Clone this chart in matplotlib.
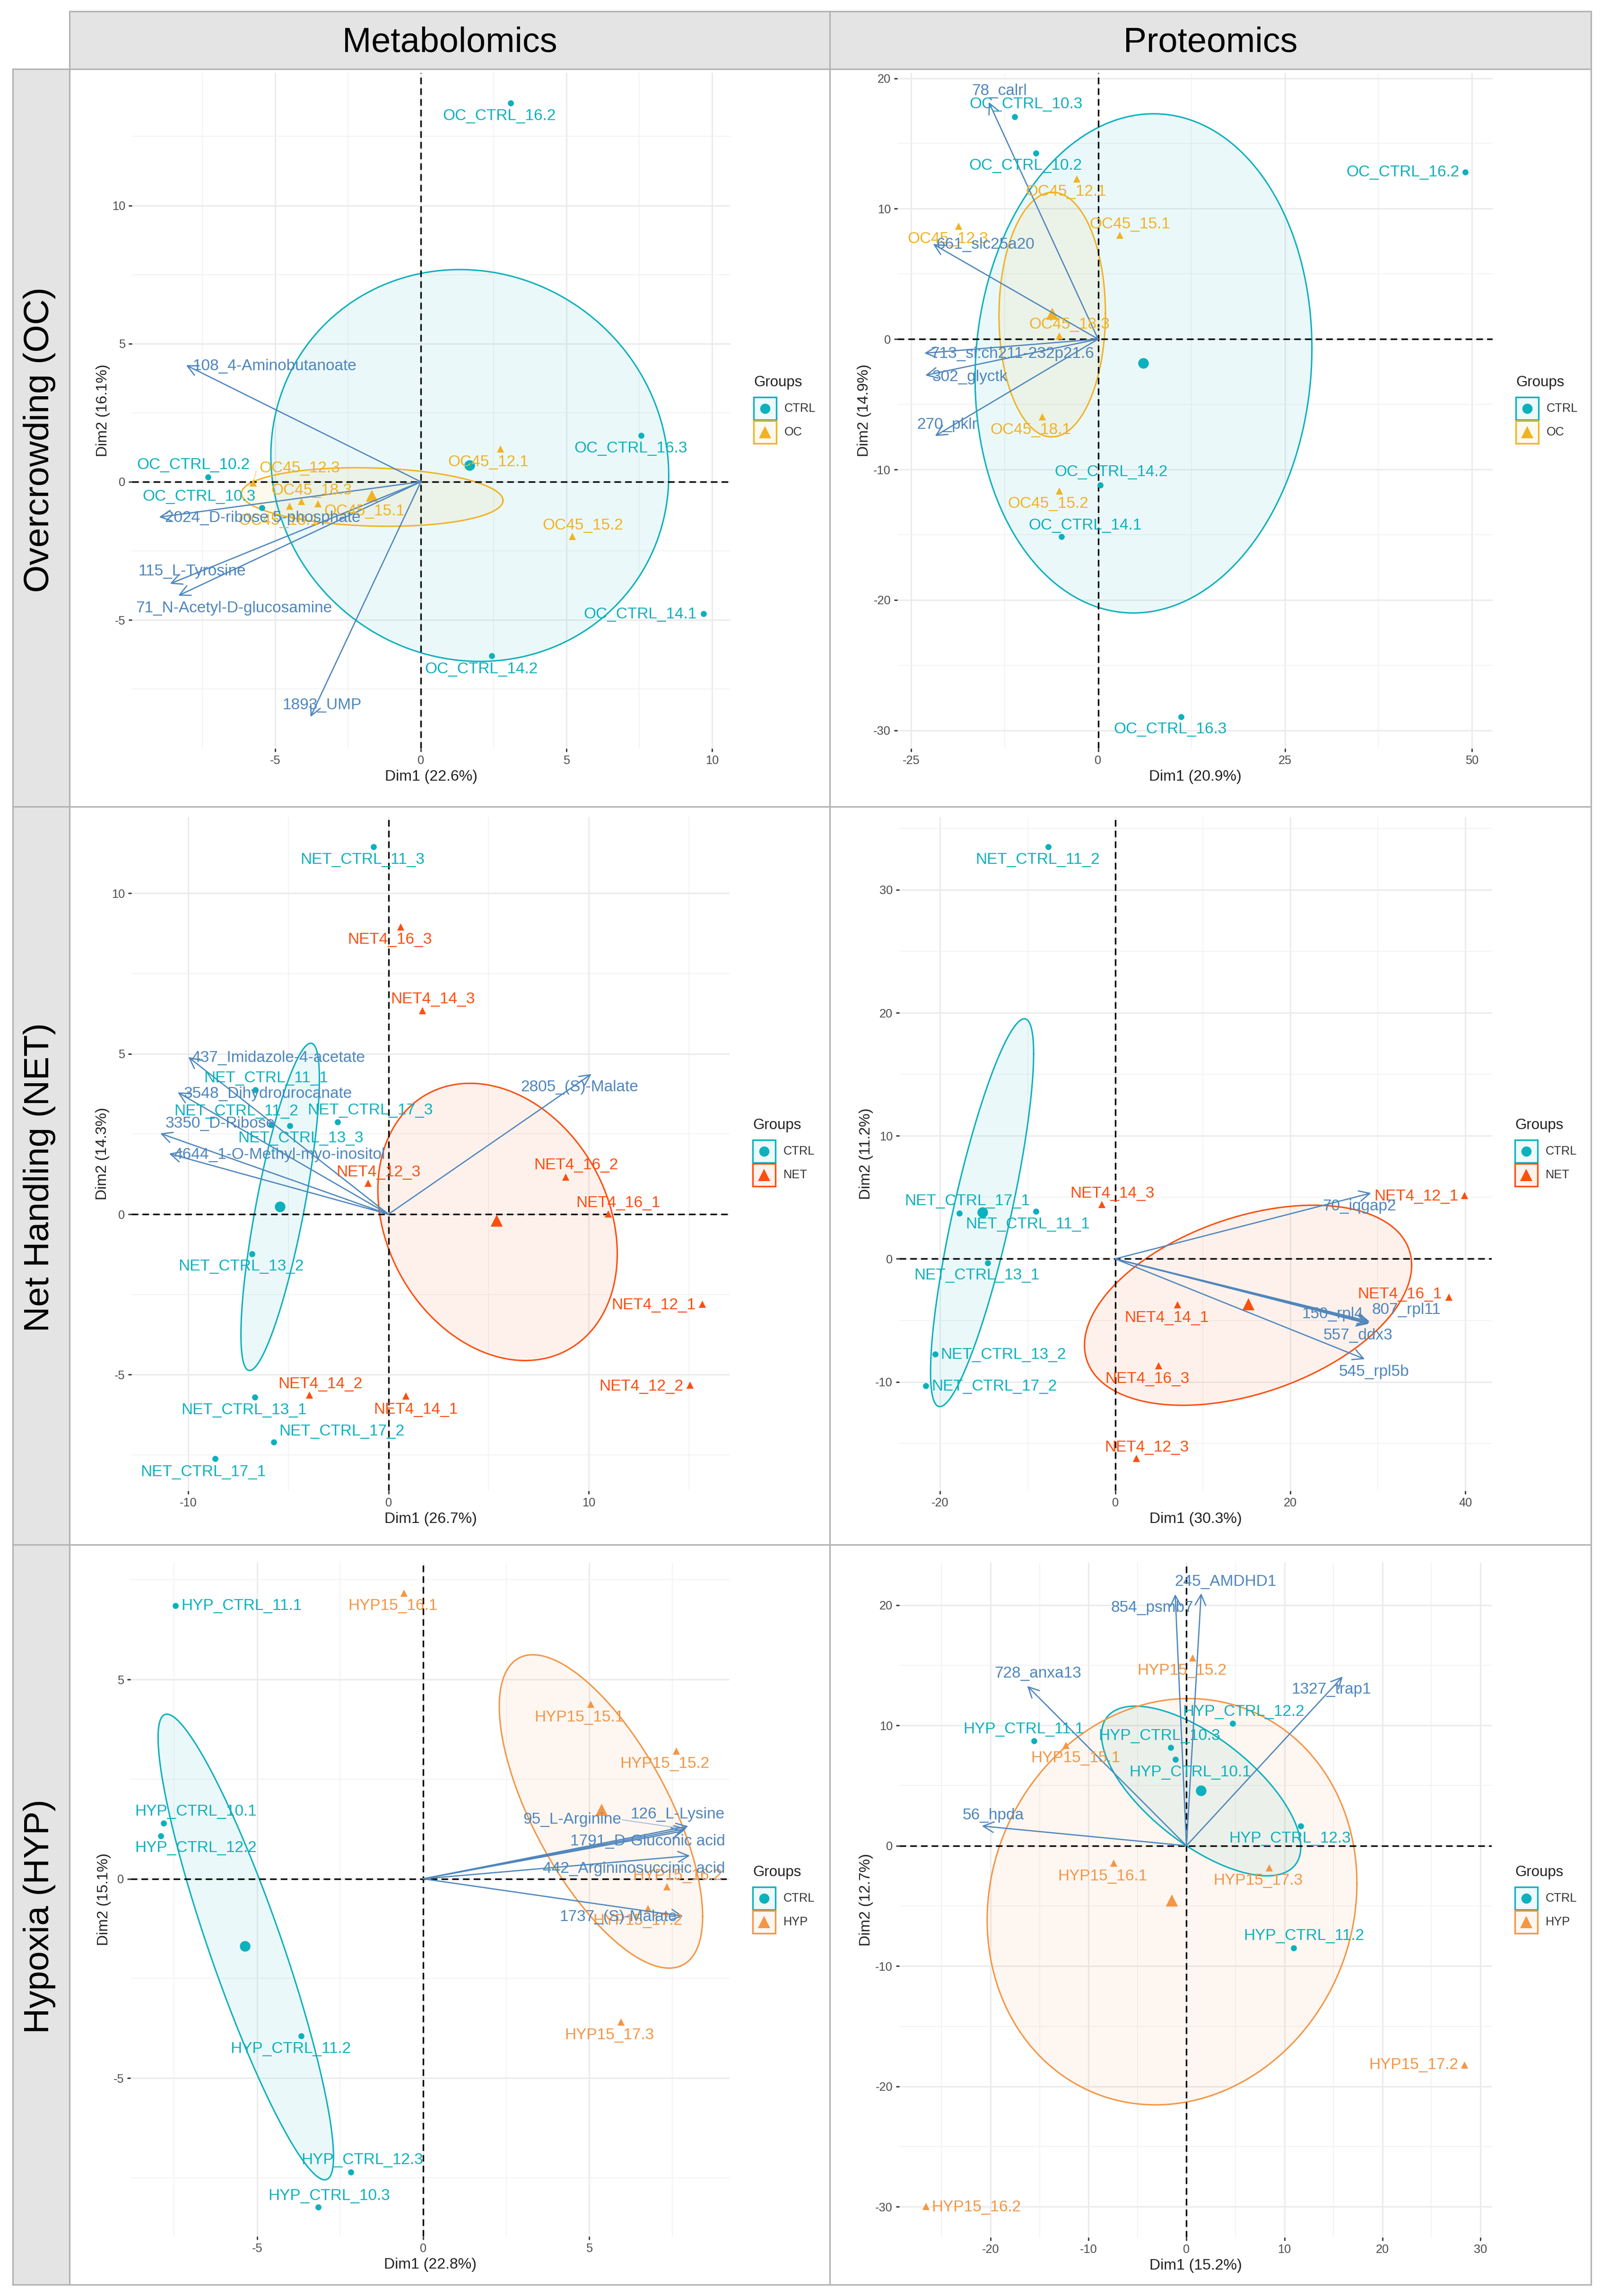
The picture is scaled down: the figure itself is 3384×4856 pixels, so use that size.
import numpy as np
import matplotlib
matplotlib.use("Agg")
import matplotlib.pyplot as plt
from matplotlib.lines import Line2D
from matplotlib.patches import Rectangle
from matplotlib.ticker import MultipleLocator

plt.rcParams["font.family"] = ["Liberation Sans", "DejaVu Sans"]
plt.rcParams["axes.unicode_minus"] = False

W, H = 3384, 4856

CTRL_COL = "#0CB1BD"
OC_COL = "#F0B325"
NET_COL = "#FB4F0F"
HYP_COL = "#F39646"
ARROW_COL = "#4F86BC"

# ---- Metabolomics / Overcrowding
m_oc_ctrl_names = ["OC_CTRL_16.2", "OC_CTRL_16.3", "OC_CTRL_10.2", "OC_CTRL_10.3", "OC_CTRL_14.1", "OC_CTRL_14.2"]
m_oc_ctrl_x = [3.08, 7.57, -7.30, -5.46, 9.70, 2.43]
m_oc_ctrl_y = [13.70, 1.67, 0.17, -0.94, -4.78, -6.30]
m_oc_ctrl_lx = [2.70, 7.20, -7.81, -7.62, 7.53, 2.07]
m_oc_ctrl_ly = [13.24, 1.21, 0.60, -0.54, -4.80, -6.79]
m_oc_ctrl_mean = (1.67, 0.60)
m_oc_ctrl_ell = (1.68, 0.59, 6.83, 7.09, -0.05)

m_oc_trt_names = ["OC45_12.1", "OC45_15.2", "OC45_12.3", "OC45_18.3", "OC45_18.1", "OC45_15.1"]
m_oc_trt_x = [2.72, 5.20, -5.76, -4.11, -4.52, -3.54]
m_oc_trt_y = [1.19, -1.97, -0.03, -0.71, -0.87, -0.78]
m_oc_trt_lx = [2.32, 5.56, -4.16, -3.76, -4.88, -1.94]
m_oc_trt_ly = [0.71, -1.58, 0.49, -0.32, -1.41, -1.07]
m_oc_trt_mean = (-1.69, -0.49)
m_oc_trt_ell = (-1.67, -0.55, 4.49, 1.06, -0.12)
# thin leader from a label back to its point: label end x, y, point x, y
m_oc_trt_leader = (-5.65, 0.39, -5.76, -0.03)

m_oc_var_names = ["108_4-Aminobutanoate", "2024_D-ribose 5-phosphate", "115_L-Tyrosine", "71_N-Acetyl-D-glucosamine", "1893_UMP"]
m_oc_var_x = [-8.06, -8.99, -8.61, -8.33, -3.79]
m_oc_var_y = [4.22, -1.28, -3.69, -4.12, -8.51]
m_oc_var_lx = [-5.02, -5.43, -7.86, -6.41, -3.39]
m_oc_var_ly = [4.19, -1.31, -3.25, -4.58, -8.09]

# ---- Proteomics / Overcrowding
p_oc_ctrl_names = ["OC_CTRL_10.3", "OC_CTRL_10.2", "OC_CTRL_16.2", "OC_CTRL_14.2", "OC_CTRL_14.1", "OC_CTRL_16.3"]
p_oc_ctrl_x = [-11.17, -8.30, 49.12, 0.26, -4.90, 11.10]
p_oc_ctrl_y = [17.06, 14.25, 12.81, -11.18, -15.15, -28.97]
p_oc_ctrl_lx = [-9.67, -9.73, 40.76, 1.76, -1.76, 9.67]
p_oc_ctrl_ly = [18.00, 13.28, 12.77, -10.21, -14.29, -29.91]
p_oc_ctrl_mean = (6.01, -1.84)
p_oc_ctrl_ell = (6.07, -1.86, 22.53, 19.14, 0.06)

p_oc_trt_names = ["OC45_12.1", "OC45_12.3", "OC45_15.1", "OC45_18.3", "OC45_18.1", "OC45_15.2"]
p_oc_trt_x = [-2.87, -18.68, 2.87, -5.23, -7.51, -5.23]
p_oc_trt_y = [12.30, 8.69, 7.97, 0.25, -5.95, -11.62]
p_oc_trt_lx = [-4.31, -20.12, 4.25, -3.85, -9.01, -6.66]
p_oc_trt_ly = [11.29, 7.68, 8.80, 1.12, -6.96, -12.63]
p_oc_trt_mean = (-6.14, 1.98)
p_oc_trt_ell = (-6.14, 1.88, 7.12, 9.38, 0.01)

p_oc_var_names = ["78_calrl", "661_slc25a20", "713_si:ch211-232p21.6", "302_glyctk", "270_pklr"]
p_oc_var_x = [-14.63, -22.08, -23.25, -23.12, -21.82]
p_oc_var_y = [18.18, 7.29, -1.08, -2.78, -7.43]
p_oc_var_lx = [-13.19, -15.09, -11.50, -17.18, -20.18]
p_oc_var_ly = [19.01, 7.25, -1.15, -2.92, -6.57]

# ---- Metabolomics / Net handling
m_net_ctrl_names = ["NET_CTRL_11_3", "NET_CTRL_11_1", "NET_CTRL_11_2", "NET_CTRL_17_3", "NET_CTRL_13_3",
                    "NET_CTRL_13_2", "NET_CTRL_13_1", "NET_CTRL_17_2", "NET_CTRL_17_1"]
m_net_ctrl_x = [-0.75, -6.65, -4.92, -2.55, -5.86, -6.82, -6.67, -5.73, -8.67]
m_net_ctrl_y = [11.45, 3.87, 2.76, 2.87, 2.79, -1.23, -5.70, -7.10, -7.62]
m_net_ctrl_lx = [-1.30, -6.12, -7.61, -0.92, -4.39, -7.35, -7.23, -2.34, -9.25]
m_net_ctrl_ly = [11.04, 4.24, 3.20, 3.23, 2.36, -1.63, -6.11, -6.77, -8.04]
m_net_ctrl_mean = (-5.42, 0.23)
m_net_ctrl_ell = (-5.41, 0.23, 1.96, 5.10, 0.78)

m_net_trt_names = ["NET4_16_3", "NET4_14_3", "NET4_12_3", "NET4_16_2", "NET4_16_1", "NET4_12_1", "NET4_12_2", "NET4_14_2", "NET4_14_1"]
m_net_trt_x = [0.60, 1.69, -1.04, 8.84, 10.96, 15.66, 15.06, -3.95, 0.87]
m_net_trt_y = [8.96, 6.36, 0.97, 1.17, 0.01, -2.80, -5.32, -5.63, -5.66]
m_net_trt_lx = [0.07, 2.22, -0.51, 9.37, 11.47, 13.25, 12.63, -3.40, 1.37]
m_net_trt_ly = [8.55, 6.70, 1.30, 1.52, 0.35, -2.83, -5.37, -5.29, -6.09]
m_net_trt_mean = (5.40, -0.19)
m_net_trt_ell = (5.45, -0.24, 5.98, 4.32, -0.23)

m_net_var_names = ["437_Imidazole-4-acetate", "3548_Dihydrourocanate", "3350_D-Ribose", "4644_1-O-Methyl-myo-inositol", "2805_(S)-Malate"]
m_net_var_x = [-10.00, -10.53, -11.40, -10.96, 10.14]
m_net_var_y = [4.90, 3.80, 2.52, 1.89, 4.37]
m_net_var_lx = [-5.49, -6.02, -8.41, -5.45, 9.54]
m_net_var_ly = [4.87, 3.75, 2.82, 1.85, 3.96]

# ---- Proteomics / Net handling
p_net_ctrl_names = ["NET_CTRL_11_2", "NET_CTRL_17_1", "NET_CTRL_11_1", "NET_CTRL_13_1", "NET_CTRL_13_2", "NET_CTRL_17_2"]
p_net_ctrl_x = [-7.65, -17.80, -9.04, -14.56, -20.54, -21.65]
p_net_ctrl_y = [33.50, 3.71, 3.86, -0.31, -7.76, -10.33]
p_net_ctrl_lx = [-8.87, -16.91, -9.99, -15.79, -12.78, -13.84]
p_net_ctrl_ly = [32.43, 4.67, 2.79, -1.34, -7.80, -10.36]
p_net_ctrl_mean = (-15.18, 3.79)
p_net_ctrl_ell = (-15.21, 3.75, 5.89, 15.76, 0.82)

p_net_trt_names = ["NET4_14_3", "NET4_12_1", "NET4_16_1", "NET4_14_1", "NET4_16_3", "NET4_12_3"]
p_net_trt_x = [-1.56, 39.90, 38.11, 7.09, 4.91, 2.40]
p_net_trt_y = [4.44, 5.16, -3.10, -3.71, -8.68, -16.21]
p_net_trt_lx = [-0.33, 34.38, 32.53, 5.86, 3.68, 3.63]
p_net_trt_ly = [5.32, 5.09, -2.87, -4.82, -9.75, -15.33]
p_net_trt_mean = (15.18, -3.67)
p_net_trt_ell = (15.18, -3.77, 18.69, 8.13, 0.40)

p_net_var_names = ["70_iqgap2", "150_rpl4", "807_rpl11", "557_ddx3", "545_rpl5b"]
p_net_var_x = [29.24, 29.07, 29.07, 28.96, 28.52]
p_net_var_y = [5.35, -5.20, -5.09, -5.28, -8.15]
p_net_var_lx = [27.90, 24.83, 33.26, 27.73, 29.58]
p_net_var_ly = [4.28, -4.51, -4.17, -6.23, -9.18]

# ---- Metabolomics / Hypoxia
m_hyp_ctrl_names = ["HYP_CTRL_11.1", "HYP_CTRL_10.1", "HYP_CTRL_12.2", "HYP_CTRL_11.2", "HYP_CTRL_12.3", "HYP_CTRL_10.3"]
m_hyp_ctrl_x = [-7.46, -7.81, -7.90, -3.67, -2.18, -3.16]
m_hyp_ctrl_y = [6.85, 1.39, 1.07, -3.94, -7.36, -8.24]
m_hyp_ctrl_lx = [-5.47, -6.85, -6.85, -3.99, -1.84, -2.83]
m_hyp_ctrl_ly = [6.84, 1.68, 0.77, -4.27, -7.06, -7.96]
m_hyp_ctrl_mean = (-5.36, -1.69)
m_hyp_ctrl_ell = (-5.34, -1.71, 2.64, 5.84, -0.90)

m_hyp_trt_names = ["HYP15_16.1", "HYP15_15.1", "HYP15_15.2", "HYP15_16.2", "HYP15_17.2", "HYP15_17.3"]
m_hyp_trt_x = [-0.58, 5.04, 7.61, 7.33, 6.76, 5.95]
m_hyp_trt_y = [7.17, 4.38, 3.21, -0.19, -0.74, -3.59]
m_hyp_trt_lx = [-0.91, 4.69, 7.27, 7.65, 6.46, 5.60]
m_hyp_trt_ly = [6.85, 4.05, 2.88, 0.07, -1.05, -3.92]
m_hyp_trt_mean = (5.36, 1.74)
m_hyp_trt_ell = (5.35, 1.69, 3.06, 3.93, -0.67)

m_hyp_var_names = ["126_L-Lysine", "95_L-Arginine", "1791_D-Gluconic acid", "442_Argininosuccinic acid", "1737_(S)-Malate"]
m_hyp_var_x = [7.98, 7.92, 7.84, 8.03, 7.82]
m_hyp_var_y = [1.32, 1.26, 1.20, 0.58, -0.94]
m_hyp_var_lx = [7.65, 4.48, 6.75, 6.34, 5.88]
m_hyp_var_ly = [1.61, 1.48, 0.94, 0.25, -0.96]
m_hyp_var_leader = (5.99, 1.48, 7.72, 1.27)

# ---- Proteomics / Hypoxia
p_hyp_ctrl_names = ["HYP_CTRL_11.1", "HYP_CTRL_12.2", "HYP_CTRL_10.3", "HYP_CTRL_10.1", "HYP_CTRL_12.3", "HYP_CTRL_11.2"]
p_hyp_ctrl_x = [-15.55, 4.69, -1.60, -1.15, 11.67, 10.92]
p_hyp_ctrl_y = [8.71, 10.16, 8.16, 7.19, 1.64, -8.48]
p_hyp_ctrl_lx = [-16.65, 5.83, -2.74, 0.35, 10.57, 12.01]
p_hyp_ctrl_ly = [9.69, 11.13, 9.14, 6.09, 0.59, -7.50]
p_hyp_ctrl_mean = (1.50, 4.57)
p_hyp_ctrl_ell = (1.50, 4.55, 10.17, 7.05, -0.66)

p_hyp_trt_names = ["HYP15_15.2", "HYP15_15.1", "HYP15_16.1", "HYP15_17.3", "HYP15_17.2", "HYP15_16.2"]
p_hyp_trt_x = [0.60, -12.31, -7.43, 8.42, 28.37, -26.62]
p_hyp_trt_y = [15.63, 8.36, -1.41, -1.80, -18.20, -29.96]
p_hyp_trt_lx = [-0.45, -11.32, -8.57, 7.33, 23.18, -21.44]
p_hyp_trt_ly = [14.53, 7.27, -2.54, -2.89, -18.24, -30.04]
p_hyp_trt_mean = (-1.50, -4.53)
p_hyp_trt_ell = (-1.47, -4.65, 18.87, 16.88, 0.09)

p_hyp_var_names = ["245_AMDHD1", "854_psmb7", "728_anxa13", "1327_trap1", "56_hpda"]
p_hyp_var_x = [1.50, -1.15, -16.25, 15.95, -20.89]
p_hyp_var_y = [20.98, 20.90, 13.28, 14.06, 1.64]
p_hyp_var_lx = [3.99, -3.49, -15.15, 14.81, -19.74]
p_hyp_var_ly = [21.91, 19.77, 14.30, 12.97, 2.54]

col_titles = ["Metabolomics", "Proteomics"]
row_titles = ["Overcrowding (OC)", "Net Handling (NET)", "Hypoxia (HYP)"]

# px box of every axes, limits, grid steps, axis titles, legend y
panels = [
    dict(box=(279, 154, 1545, 1583), xlim=(-9.92, 10.63), ylim=(-9.65, 14.80), step=(5, 5),
         xlab="Dim1 (22.6%)", ylab="Dim2 (16.1%)", group="OC", col=OC_COL, legy=809,
         ctrl=(m_oc_ctrl_names, m_oc_ctrl_x, m_oc_ctrl_y, m_oc_ctrl_lx, m_oc_ctrl_ly, m_oc_ctrl_mean, m_oc_ctrl_ell),
         trt=(m_oc_trt_names, m_oc_trt_x, m_oc_trt_y, m_oc_trt_lx, m_oc_trt_ly, m_oc_trt_mean, m_oc_trt_ell),
         var=(m_oc_var_names, m_oc_var_x, m_oc_var_y, m_oc_var_lx, m_oc_var_ly),
         leaders=[(m_oc_trt_leader, OC_COL)]),
    dict(box=(1898, 154, 3157, 1583), xlim=(-26.85, 52.78), ylim=(-31.39, 20.42), step=(25, 10),
         xlab="Dim1 (20.9%)", ylab="Dim2 (14.9%)", group="OC", col=OC_COL, legy=809,
         ctrl=(p_oc_ctrl_names, p_oc_ctrl_x, p_oc_ctrl_y, p_oc_ctrl_lx, p_oc_ctrl_ly, p_oc_ctrl_mean, p_oc_ctrl_ell),
         trt=(p_oc_trt_names, p_oc_trt_x, p_oc_trt_y, p_oc_trt_lx, p_oc_trt_ly, p_oc_trt_mean, p_oc_trt_ell),
         var=(p_oc_var_names, p_oc_var_x, p_oc_var_y, p_oc_var_lx, p_oc_var_ly)),
    dict(box=(278, 1728, 1543, 3153), xlim=(-12.84, 17.04), ylim=(-8.62, 12.38), step=(10, 5),
         xlab="Dim1 (26.7%)", ylab="Dim2 (14.3%)", group="NET", col=NET_COL, legy=2380,
         ctrl=(m_net_ctrl_names, m_net_ctrl_x, m_net_ctrl_y, m_net_ctrl_lx, m_net_ctrl_ly, m_net_ctrl_mean, m_net_ctrl_ell),
         trt=(m_net_trt_names, m_net_trt_x, m_net_trt_y, m_net_trt_lx, m_net_trt_ly, m_net_trt_mean, m_net_trt_ell),
         var=(m_net_var_names, m_net_var_x, m_net_var_y, m_net_var_lx, m_net_var_ly)),
    dict(box=(1902, 1728, 3155, 3153), xlim=(-24.67, 43.02), ylim=(-18.85, 35.91), step=(20, 10),
         xlab="Dim1 (30.3%)", ylab="Dim2 (11.2%)", group="NET", col=NET_COL, legy=2380,
         ctrl=(p_net_ctrl_names, p_net_ctrl_x, p_net_ctrl_y, p_net_ctrl_lx, p_net_ctrl_ly, p_net_ctrl_mean, p_net_ctrl_ell),
         trt=(p_net_trt_names, p_net_trt_x, p_net_trt_y, p_net_trt_lx, p_net_trt_ly, p_net_trt_mean, p_net_trt_ell),
         var=(p_net_var_names, p_net_var_x, p_net_var_y, p_net_var_lx, p_net_var_ly)),
    dict(box=(276, 3305, 1543, 4730), xlim=(-8.81, 9.22), ylim=(-8.97, 7.93), step=(5, 5),
         xlab="Dim1 (22.8%)", ylab="Dim2 (15.1%)", group="HYP", col=HYP_COL, legy=3960,
         ctrl=(m_hyp_ctrl_names, m_hyp_ctrl_x, m_hyp_ctrl_y, m_hyp_ctrl_lx, m_hyp_ctrl_ly, m_hyp_ctrl_mean, m_hyp_ctrl_ell),
         trt=(m_hyp_trt_names, m_hyp_trt_x, m_hyp_trt_y, m_hyp_trt_lx, m_hyp_trt_ly, m_hyp_trt_mean, m_hyp_trt_ell),
         var=(m_hyp_var_names, m_hyp_var_x, m_hyp_var_y, m_hyp_var_lx, m_hyp_var_ly),
         leaders=[(m_hyp_var_leader, ARROW_COL)]),
    dict(box=(1902, 3305, 3155, 4732), xlim=(-29.31, 31.16), ylim=(-32.54, 23.52), step=(10, 10),
         xlab="Dim1 (15.2%)", ylab="Dim2 (12.7%)", group="HYP", col=HYP_COL, legy=3960,
         ctrl=(p_hyp_ctrl_names, p_hyp_ctrl_x, p_hyp_ctrl_y, p_hyp_ctrl_lx, p_hyp_ctrl_ly, p_hyp_ctrl_mean, p_hyp_ctrl_ell),
         trt=(p_hyp_trt_names, p_hyp_trt_x, p_hyp_trt_y, p_hyp_trt_lx, p_hyp_trt_ly, p_hyp_trt_mean, p_hyp_trt_ell),
         var=(p_hyp_var_names, p_hyp_var_x, p_hyp_var_y, p_hyp_var_lx, p_hyp_var_ly)),
]

col_edges = [147, 1755, 3365]
row_edges = [146, 1706, 3267, 4832]

fig = plt.figure(figsize=(W / 100, H / 100), dpi=100, facecolor="white")


def fx(x):
    return x / W


def fy(y):
    return 1 - y / H


def px_rect(x0, y0, x1, y1, **kw):
    r = Rectangle((fx(x0), fy(y1)), (x1 - x0) / W, (y1 - y0) / H, transform=fig.transFigure, **kw)
    fig.add_artist(r)
    return r


def draw_ellipse(ax, ell, col):
    # centre, half width, half height and the correlation of the ellipse
    cx, cy, w, h, rho = ell
    t = np.linspace(0, 2 * np.pi, 200)
    x = cx + w * np.cos(t)
    y = cy + h * (rho * np.cos(t) + np.sqrt(1 - rho ** 2) * np.sin(t))
    ax.fill(x, y, color=col, alpha=0.08, lw=0, zorder=2)
    ax.plot(x, y, color=col, lw=2.2, zorder=3)


def draw_group(ax, data, col, marker, s, s_mean):
    names, xs, ys, lxs, lys, mean, ell = data
    draw_ellipse(ax, ell, col)
    ax.scatter(xs, ys, s=s, marker=marker, color=col, lw=0, zorder=5)
    ax.scatter([mean[0]], [mean[1]], s=s_mean, marker=marker, color=col, lw=0, zorder=5)
    for n, lx, ly in zip(names, lxs, lys):
        ax.text(lx, ly, n, color=col, fontsize=24, ha="center", va="center", zorder=7)


def draw_legend(p):
    x0 = p["box"][2] + 49
    y = p["legy"]
    fig.text(fx(x0), fy(y), "Groups", fontsize=22.5, color="#222222", ha="left", va="center")
    keys = [("CTRL", CTRL_COL, "o", 240), (p["group"], p["col"], "^", 330)]
    for i, (lab, col, mk, s) in enumerate(keys):
        top = y + 31 + i * 50
        px_rect(x0, top, x0 + 48, top + 48, facecolor=matplotlib.colors.to_rgba(col, 0.07), edgecolor=col, lw=2.4)
        fig.add_artist(Line2D([fx(x0 + 24)], [fy(top + 24)], marker=mk, color=col, ms=np.sqrt(s), mew=0,
                              ls="none", transform=fig.transFigure))
        fig.text(fx(x0 + 65), fy(top + 24), lab, fontsize=18.3, color="#333333", ha="left", va="center")


for p in panels:
    x0, y0, x1, y1 = p["box"]
    ax = fig.add_axes([fx(x0), fy(y1), (x1 - x0) / W, (y1 - y0) / H])
    ax.patch.set_alpha(0)
    ax.set_xlim(p["xlim"])
    ax.set_ylim(p["ylim"])
    for sp in ax.spines.values():
        sp.set_visible(False)
    sx, sy = p["step"]
    ax.xaxis.set_major_locator(MultipleLocator(sx))
    ax.yaxis.set_major_locator(MultipleLocator(sy))
    ax.xaxis.set_minor_locator(MultipleLocator(sx / 2))
    ax.yaxis.set_minor_locator(MultipleLocator(sy / 2))
    ax.grid(True, which="major", color="#EBEBEB", lw=2.1, zorder=0)
    ax.grid(True, which="minor", color="#F1F1F1", lw=1.2, zorder=0)
    ax.set_axisbelow(True)
    ax.tick_params(which="major", length=5, width=2, color="#333333", labelsize=18.3, labelcolor="#4D4D4D", pad=5)
    ax.tick_params(which="minor", length=0)
    ax.axhline(0, color="black", lw=2.4, ls=(0, (4.2, 2.6)), zorder=4)
    ax.axvline(0, color="black", lw=2.4, ls=(0, (4.2, 2.6)), zorder=4)

    draw_group(ax, p["ctrl"], CTRL_COL, "o", 85, 260)
    draw_group(ax, p["trt"], p["col"], "^", 120, 340)

    names, vx, vy, lxs, lys = p["var"]
    for tx, ty in zip(vx, vy):
        ax.annotate("", xy=(tx, ty), xytext=(0, 0), zorder=6,
                    arrowprops=dict(arrowstyle="->,head_length=0.8,head_width=0.4", color=ARROW_COL, lw=1.9,
                                    shrinkA=0, shrinkB=0, mutation_scale=20))
    for n, lx, ly in zip(names, lxs, lys):
        ax.text(lx, ly, n, color=ARROW_COL, fontsize=24, ha="center", va="center", zorder=7)
    for seg, col in p.get("leaders", []):
        ax.plot([seg[0], seg[2]], [seg[1], seg[3]], color=col, lw=1.0, alpha=0.7, zorder=6)

    ax.set_xlabel(p["xlab"], fontsize=23, color="#222222", labelpad=5)
    ax.set_ylabel(p["ylab"], fontsize=23, color="#222222", labelpad=3)
    draw_legend(p)

# strips and cell frames
edge = "#B2B2B2"
strip = "#E4E4E4"
for c in range(2):
    px_rect(col_edges[c], 24, col_edges[c + 1], 146, facecolor=strip, edgecolor=edge, lw=2.2)
    fig.text(fx((col_edges[c] + col_edges[c + 1]) / 2), fy(90), col_titles[c], fontsize=53, color="black",
             ha="center", va="center")
    for r in range(3):
        px_rect(col_edges[c], row_edges[r], col_edges[c + 1], row_edges[r + 1], fill=False, edgecolor=edge, lw=2.2)
for r in range(3):
    px_rect(27, row_edges[r], 147, row_edges[r + 1], facecolor=strip, edgecolor=edge, lw=2.2)
    fig.text(fx(84), fy((row_edges[r] + row_edges[r + 1]) / 2 + 4), row_titles[r], fontsize=54, color="black",
             rotation=90, ha="center", va="center")

fig.savefig("out.png", dpi=100, facecolor="white")
